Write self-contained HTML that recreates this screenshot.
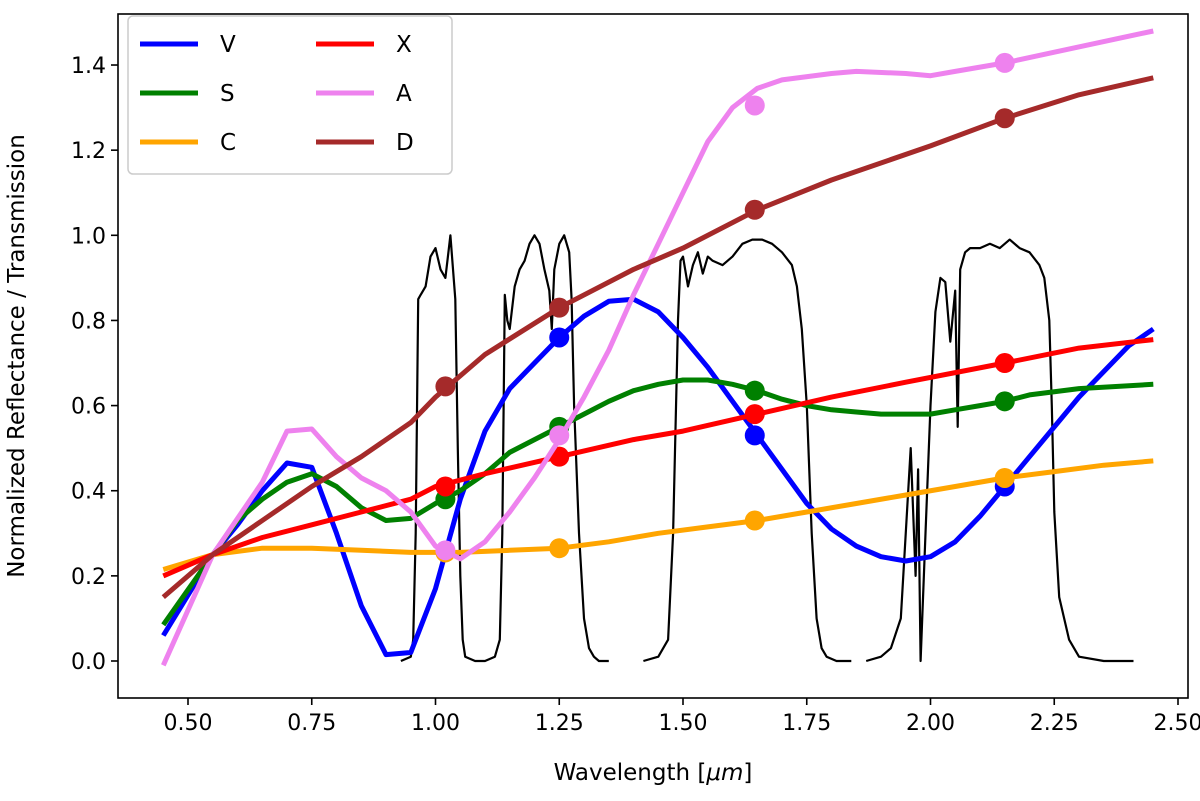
<!DOCTYPE html>
<html><head><meta charset="utf-8"><style>
body{margin:0;background:#fff;font-family:"Liberation Sans","DejaVu Sans",sans-serif}
svg text{font-family:"DejaVu Sans","Liberation Sans",sans-serif;fill:#000}
</style></head><body>
<svg id="chart" width="1200" height="796" xmlns="http://www.w3.org/2000/svg">
<g id="marks"></g>
<g id="axes"></g>
</svg>
<script>
const xTicks=[0.50,0.75,1.00,1.25,1.50,1.75,2.00,2.25,2.50];
const yTicks=[0.0,0.2,0.4,0.6,0.8,1.0,1.2,1.4];
const filterX=[0.93,0.95,0.955,0.96,0.965,0.97,0.98,0.99,1.00,1.01,1.02,1.025,1.03,1.04,1.045,1.05,1.055,1.06,1.08,1.10,1.12,1.13,1.135,1.14,1.145,1.15,1.16,1.17,1.18,1.19,1.20,1.21,1.22,1.23,1.235,1.24,1.25,1.26,1.27,1.275,1.28,1.29,1.30,1.31,1.32,1.33,1.35];
const filterY=[0.0,0.01,0.05,0.3,0.85,0.86,0.88,0.95,0.97,0.92,0.90,0.95,1.0,0.85,0.5,0.2,0.05,0.01,0.0,0.0,0.01,0.05,0.3,0.86,0.8,0.78,0.88,0.92,0.94,0.98,1.0,0.98,0.92,0.87,0.78,0.92,0.98,1.0,0.96,0.85,0.6,0.3,0.1,0.03,0.01,0.0,0.0];
const filterHX=[1.42,1.45,1.47,1.48,1.49,1.495,1.50,1.51,1.52,1.53,1.54,1.55,1.56,1.58,1.60,1.62,1.64,1.66,1.68,1.70,1.72,1.73,1.74,1.75,1.76,1.77,1.78,1.79,1.81,1.84];
const filterHY=[0.0,0.01,0.05,0.3,0.8,0.94,0.95,0.88,0.93,0.96,0.91,0.95,0.94,0.93,0.95,0.98,0.99,0.99,0.98,0.96,0.93,0.88,0.78,0.6,0.3,0.1,0.03,0.01,0.0,0.0];
const filterKX=[1.87,1.90,1.92,1.94,1.96,1.97,1.975,1.98,1.99,2.00,2.01,2.02,2.03,2.04,2.05,2.055,2.06,2.07,2.08,2.10,2.12,2.14,2.16,2.18,2.20,2.22,2.23,2.24,2.245,2.25,2.26,2.28,2.30,2.35,2.41];
const filterKY=[0.0,0.01,0.03,0.1,0.5,0.2,0.45,0.0,0.3,0.6,0.82,0.9,0.89,0.75,0.87,0.55,0.92,0.96,0.97,0.97,0.98,0.97,0.99,0.97,0.96,0.93,0.9,0.8,0.6,0.35,0.15,0.05,0.01,0.0,0.0];
const vX=[0.45,0.55,0.60,0.65,0.70,0.75,0.80,0.85,0.90,0.95,1.00,1.05,1.10,1.15,1.20,1.25,1.30,1.35,1.40,1.45,1.50,1.55,1.60,1.65,1.70,1.75,1.80,1.85,1.90,1.95,2.00,2.05,2.10,2.15,2.20,2.25,2.30,2.35,2.40,2.45];
const vY=[0.06,0.25,0.32,0.40,0.465,0.455,0.30,0.13,0.015,0.02,0.17,0.38,0.54,0.64,0.70,0.76,0.81,0.845,0.85,0.82,0.76,0.69,0.61,0.53,0.45,0.37,0.31,0.27,0.245,0.235,0.245,0.28,0.34,0.41,0.48,0.55,0.62,0.68,0.74,0.78];
const sX=[0.45,0.55,0.60,0.65,0.70,0.75,0.80,0.85,0.90,0.95,1.00,1.05,1.10,1.15,1.20,1.25,1.30,1.35,1.40,1.45,1.50,1.55,1.60,1.65,1.70,1.75,1.80,1.85,1.90,1.95,2.00,2.05,2.10,2.15,2.20,2.30,2.45];
const sY=[0.085,0.25,0.33,0.38,0.42,0.44,0.41,0.36,0.33,0.335,0.37,0.40,0.44,0.49,0.52,0.55,0.58,0.61,0.635,0.65,0.66,0.66,0.65,0.635,0.615,0.60,0.59,0.585,0.58,0.58,0.58,0.59,0.60,0.61,0.625,0.64,0.65];
const cX=[0.45,0.55,0.65,0.75,0.85,0.95,1.05,1.15,1.25,1.35,1.45,1.55,1.65,1.75,1.85,1.95,2.05,2.15,2.25,2.35,2.45];
const cY=[0.215,0.25,0.265,0.265,0.26,0.255,0.255,0.26,0.265,0.28,0.30,0.315,0.33,0.35,0.37,0.39,0.41,0.43,0.445,0.46,0.47];
const xX=[0.45,0.55,0.65,0.75,0.85,0.95,1.00,1.10,1.25,1.40,1.50,1.65,1.80,1.95,2.15,2.30,2.45];
const xY=[0.20,0.25,0.29,0.32,0.35,0.38,0.41,0.44,0.48,0.52,0.54,0.58,0.62,0.655,0.70,0.735,0.755];
const aX=[0.45,0.55,0.65,0.70,0.75,0.80,0.85,0.90,0.95,1.00,1.05,1.10,1.15,1.20,1.25,1.30,1.35,1.40,1.45,1.50,1.55,1.60,1.65,1.70,1.80,1.85,1.95,2.00,2.05,2.15,2.25,2.35,2.45];
const aY=[-0.01,0.25,0.42,0.54,0.545,0.48,0.43,0.40,0.35,0.27,0.24,0.28,0.35,0.43,0.52,0.62,0.73,0.86,0.98,1.10,1.22,1.30,1.345,1.365,1.38,1.385,1.38,1.375,1.385,1.405,1.43,1.455,1.48];
const dX=[0.45,0.55,0.65,0.75,0.85,0.95,1.00,1.10,1.25,1.40,1.50,1.65,1.80,2.00,2.15,2.30,2.45];
const dY=[0.15,0.25,0.33,0.41,0.48,0.56,0.62,0.72,0.83,0.92,0.97,1.06,1.13,1.21,1.275,1.33,1.37];
const dotX=[1.02,1.25,1.645,2.15];
const vDots=[null,0.76,0.53,0.41];
const sDots=[0.38,0.55,0.635,0.61];
const cDots=[0.255,0.265,0.33,0.43];
const xDots=[0.41,0.48,0.58,0.70];
const aDots=[0.26,0.53,1.305,1.405];
const dDots=[0.645,0.83,1.06,1.275];

const L=118,R=1188,T=14,B=698;
const xs=w=>188+(w-0.5)*495;
const ys=v=>661-v*425.7;
const NS="http://www.w3.org/2000/svg";
const marks=document.getElementById('marks'),axes=document.getElementById('axes');
function mk(t,a,p){const e=document.createElementNS(NS,t);for(const k in a)e.setAttribute(k,a[k]);p.appendChild(e);return e;}
function line(X,Y,color,w,name){
  const d=X.map((x,i)=>(i?'L':'M')+xs(x).toFixed(1)+','+ys(Y[i]).toFixed(1)).join('');
  const p=mk('path',{d:d,fill:'none',stroke:color,'stroke-width':w,'stroke-linejoin':'round'},marks);
  
  
}
line(filterX,filterY,'#000',2.2,'filter-j-band');
line(filterHX,filterHY,'#000',2.2,'filter-h-band');
line(filterKX,filterKY,'#000',2.2,'filter-k-band');
const series=[['V','blue',vX,vY,vDots],['S','green',sX,sY,sDots],['C','orange',cX,cY,cDots],['X','red',xX,xY,xDots],['A','violet',aX,aY,aDots],['D','brown',dX,dY,dDots]];
series.forEach(s=>{
  line(s[2],s[3],s[1],5,'series-'+s[0].toLowerCase());
  s[4].forEach((v,i)=>{if(v===null)return;
    const c=mk('circle',{cx:xs(dotX[i]),cy:ys(v),r:10,fill:s[1]},marks);
    
    
  });
});
const frame=mk('rect',{x:L,y:T,width:R-L,height:B-T,fill:'none',stroke:'#000','stroke-width':1.6},axes);


xTicks.forEach(t=>{
  mk('line',{x1:xs(t),x2:xs(t),y1:B,y2:B+7,stroke:'#000','stroke-width':1.6},axes);
  const tx=mk('text',{x:xs(t),y:B+32,'font-size':22,'text-anchor':'middle'},axes);tx.textContent=t.toFixed(2);
  
  
});
yTicks.forEach(t=>{
  mk('line',{x1:L-7,x2:L,y1:ys(t),y2:ys(t),stroke:'#000','stroke-width':1.6},axes);
  const tx=mk('text',{x:L-12,y:ys(t)+8,'font-size':22,'text-anchor':'end'},axes);tx.textContent=t.toFixed(1);
  
  
});
const xl=mk('text',{x:653,y:780,'font-size':23,'text-anchor':'middle'},axes);
xl.innerHTML='Wavelength [<tspan font-style="italic">μm</tspan>]';


const yl=mk('text',{x:0,y:0,'font-size':23,'text-anchor':'middle',transform:'translate(24,356) rotate(-90)'},axes);
yl.textContent='Normalized Reflectance / Transmission';


const lg=mk('g',{},axes);


mk('rect',{x:128,y:16,width:324,height:158,rx:5,fill:'#fff','fill-opacity':0.85,stroke:'#ccc','stroke-width':1.5},lg);
series.forEach((s,i)=>{
  const col=Math.floor(i/3),row=i%3;
  const x0=140+col*176,y0=44+row*49;
  mk('line',{x1:x0,x2:x0+58,y1:y0,y2:y0,stroke:s[1],'stroke-width':5},lg);
  const t=mk('text',{x:x0+80,y:y0+8,'font-size':23},lg);t.textContent=s[0];
  
  
});
</script>
</body></html>
